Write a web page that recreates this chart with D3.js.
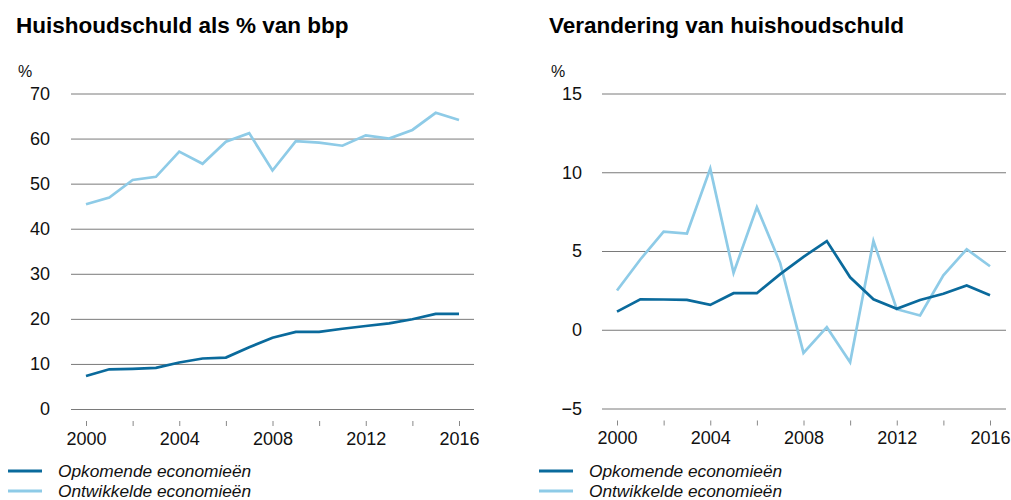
<!DOCTYPE html>
<html><head><meta charset="utf-8">
<script src="https://cdn.jsdelivr.net/npm/d3@7"></script>
<style>
body{margin:0;background:#fff;}
text{font-family:"Liberation Sans",Arial,Helvetica,sans-serif;}
</style></head>
<body><svg id="c" width="1011" height="500"></svg>
<script>
const years = [2000,2001,2002,2003,2004,2005,2006,2007,2008,2009,2010,2011,2012,2013,2014,2015,2016];
const seriesNames = ["Opkomende economieën","Ontwikkelde economieën"];
const colors = ["#0a6a9c","#8ecbe7"];
// Left: Huishoudschuld als % van bbp
const leftEmerging = [7.2,8.7,8.8,9.0,10.2,11.1,11.3,13.6,15.7,17.0,17.0,17.7,18.3,18.9,19.8,21.0,21.0];
const leftAdvanced = [45.3,46.8,50.7,51.4,57.0,54.3,59.2,61.1,52.8,59.3,59.0,58.3,60.6,59.9,61.8,65.6,64.0];
// Right: Verandering van huishoudschuld
const rightEmerging = [1.12,1.9,1.89,1.86,1.55,2.29,2.29,3.5,4.6,5.6,3.3,1.9,1.3,1.86,2.25,2.78,2.16];
const rightAdvanced = [2.46,4.43,6.2,6.08,10.2,3.58,7.75,4.2,-1.5,0.13,-2.1,5.6,1.27,0.87,3.43,5.08,4.0];
const leftYTicks = [0,10,20,30,40,50,60,70];
const rightYTicks = [-5,0,5,10,15];
const xLabelYears = [2000,2004,2008,2012,2016];
const xTickYears = [2000,2002,2004,2006,2008,2010,2012,2014,2016];

const svg = d3.select("#c");

function panel(o){
  const g = svg.append("g");
  g.append("text").attr("x",o.tx).attr("y",33).attr("font-size",22.5).attr("font-weight","bold").attr("fill","#000").text(o.title);
  g.append("text").attr("x",o.tx+2).attr("y",77).attr("font-size",16).attr("fill","#111").text("%");
  const x = d3.scaleLinear().domain([2000,2016]).range(o.xr);
  const y = d3.scaleLinear().domain(o.yd).range([o.y0,93]);
  const ya = d3.axisLeft(y).tickValues(o.yticks).tickSize(-(o.gx1-o.gx0)).tickPadding(o.gx0-o.labelX)
    .tickFormat(d=> d<0 ? "\u2212"+Math.abs(d) : d);
  const yg = g.append("g").attr("transform",`translate(${o.gx0},0)`).call(ya);
  yg.select(".domain").remove();
  yg.selectAll(".tick line").attr("stroke","#7a7a7a").attr("stroke-width",1).attr("transform","translate(0,0.5)");
  yg.selectAll(".tick text").attr("font-size",18).attr("fill","#111").attr("font-family","Liberation Sans, Arial, sans-serif").attr("dy","0.35em");
  const xa = d3.axisBottom(x).tickValues(xTickYears).tickSize(5).tickPadding(6)
    .tickFormat(d=> xLabelYears.includes(d)? String(d):"");
  const xg = g.append("g").attr("transform",`translate(0,${o.y0+12.5})`).call(xa);
  xg.select(".domain").remove();
  xg.selectAll(".tick line").attr("stroke","#888").attr("stroke-width",1);
  xg.selectAll(".tick text").attr("font-size",18).attr("fill","#111").attr("font-family","Liberation Sans, Arial, sans-serif");
  const line = d3.line().x((d,i)=>x(years[i])).y(d=>y(d));
  [[o.adv,colors[1]],[o.emg,colors[0]]].forEach(([data,col])=>{
    g.append("path").datum(data).attr("d",line).attr("fill","none").attr("stroke",col).attr("stroke-width",2.7).attr("stroke-linejoin","miter");
  });
  seriesNames.forEach((n,i)=>{
    const ly = 471 + i*20;
    g.append("line").attr("x1",o.lx).attr("x2",o.lx+34).attr("y1",ly).attr("y2",ly).attr("stroke",colors[i]).attr("stroke-width",3);
    g.append("text").attr("x",o.lx+50).attr("y",ly+6).attr("font-size",17.3).attr("font-style","italic").attr("fill","#111").text(n);
  });
}

panel({title:"Huishoudschuld als % van bbp", tx:16, xr:[86,459], yd:[0,70], y0:408.5, yticks:leftYTicks,
  gx0:71, gx1:474, labelX:50, adv:leftAdvanced, emg:leftEmerging, lx:8});
panel({title:"Verandering van huishoudschuld", tx:549, xr:[617,990], yd:[-5,15], y0:408, yticks:rightYTicks,
  gx0:602, gx1:1006, labelX:582, adv:rightAdvanced, emg:rightEmerging, lx:539});
</script></body></html>
